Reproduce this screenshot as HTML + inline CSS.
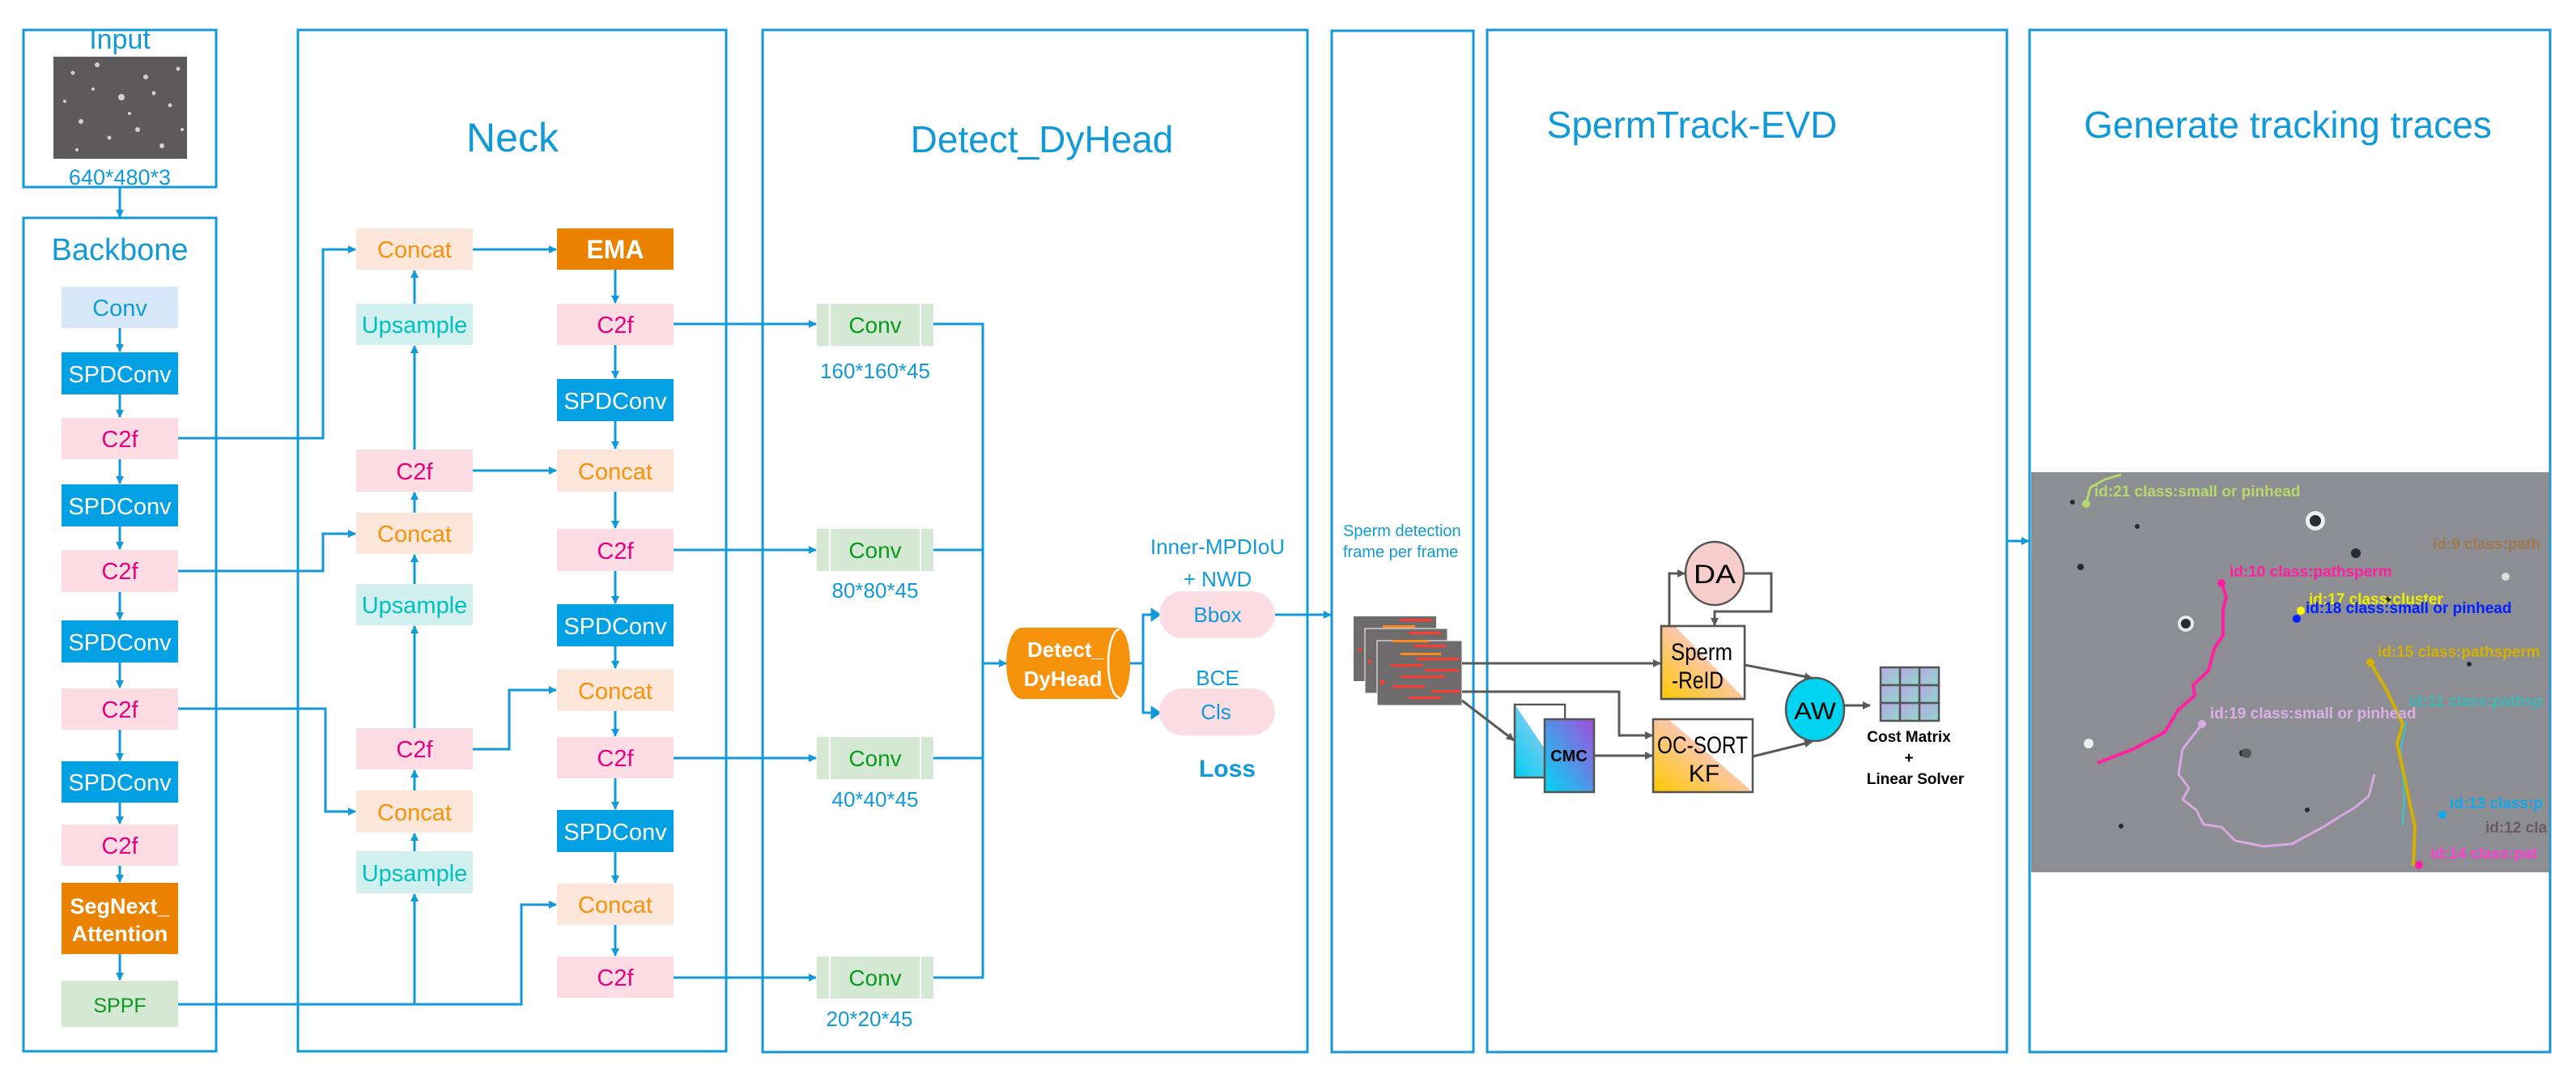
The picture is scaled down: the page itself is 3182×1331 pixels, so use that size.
<!DOCTYPE html>
<html><head><meta charset="utf-8"><style>
html,body{margin:0;padding:0;background:#fff;}
svg{display:block;}
text{font-family:"Liberation Sans",sans-serif;}
</style></head><body>
<svg width="3182" height="1331" viewBox="0 0 3182 1331" xmlns="http://www.w3.org/2000/svg">
<defs>
<marker id="ab" markerWidth="10" markerHeight="10" refX="9" refY="5" orient="auto" markerUnits="userSpaceOnUse" viewBox="0 0 10 10"><path d="M0,0 L10,5 L0,10 Z" fill="#129ad8"/></marker>
<marker id="ag" markerWidth="10" markerHeight="10" refX="9" refY="5" orient="auto" viewBox="0 0 10 10" markerUnits="userSpaceOnUse"><path d="M0,0 L10,5 L0,10 Z" fill="#595959"/></marker>
<linearGradient id="gOr" x1="0" y1="1" x2="1" y2="0"><stop offset="0" stop-color="#ffc800"/><stop offset="0.6" stop-color="#fcc7b8"/><stop offset="1" stop-color="#f9c4d4"/></linearGradient>
<linearGradient id="gCmc" x1="0" y1="1" x2="1" y2="0"><stop offset="0" stop-color="#00d8f2"/><stop offset="1" stop-color="#a44ddc"/></linearGradient>
<linearGradient id="gCmc2" x1="0" y1="1" x2="1" y2="0"><stop offset="0" stop-color="#00cff0"/><stop offset="1" stop-color="#d5c8f2"/></linearGradient>
<linearGradient id="gGrid" x1="0" y1="0" x2="1" y2="1"><stop offset="0" stop-color="#b8a8e8"/><stop offset="1" stop-color="#8fd8c8"/></linearGradient>
</defs>
<g fill="none" stroke="#129ad8" stroke-width="3">
<rect x="29" y="37" width="238" height="194"/>
<rect x="29" y="269" width="238" height="1029"/>
<rect x="368" y="37" width="529" height="1261"/>
<rect x="942" y="37" width="673" height="1262"/>
<rect x="1645" y="38" width="175" height="1261"/>
<rect x="1837" y="37" width="642" height="1262"/>
<rect x="2507" y="37" width="643" height="1262"/>
</g>
<g fill="#129ad8" text-anchor="middle">
<text x="148" y="60" font-size="34">Input</text>
<text x="148" y="228" font-size="27">640*480*3</text>
<text x="148" y="321" font-size="38">Backbone</text>
<text x="633" y="187" font-size="50">Neck</text>
<text x="1287" y="188" font-size="46" font-family="DejaVu Sans, sans-serif">Detect_DyHead</text>
<text x="2090" y="170" font-size="46">SpermTrack-EVD</text>
<text x="2826" y="170" font-size="46">Generate tracking traces</text>
</g>
<rect x="66" y="70" width="165" height="126" fill="#5c5a5a"/>
<g fill="#cfcfd4">
<circle cx="90" cy="90" r="2.5"/><circle cx="120" cy="80" r="3"/><circle cx="150" cy="120" r="4"/><circle cx="180" cy="95" r="3"/><circle cx="210" cy="130" r="2.5"/><circle cx="100" cy="150" r="3"/><circle cx="135" cy="170" r="2.5"/><circle cx="170" cy="160" r="3"/><circle cx="200" cy="180" r="3"/><circle cx="220" cy="85" r="2.5"/><circle cx="80" cy="125" r="2"/><circle cx="160" cy="140" r="2"/><circle cx="190" cy="115" r="2.5"/><circle cx="115" cy="110" r="2"/><circle cx="225" cy="160" r="2"/><circle cx="95" cy="185" r="2"/>
</g>
<line x1="148" y1="231" x2="148" y2="268" stroke="#129ad8" stroke-width="3" marker-end="url(#ab)"/>
<g font-size="29" text-anchor="middle">
<rect x="76" y="354" width="144" height="51" fill="#d6e8f7"/><text x="148" y="390" fill="#129ad8">Conv</text>
<rect x="76" y="435" width="144" height="52" fill="#03a0e3"/><text x="148" y="472" fill="#fff">SPDConv</text>
<rect x="76" y="516" width="144" height="51" fill="#fddde3"/><text x="148" y="552" fill="#e8007e">C2f</text>
<rect x="76" y="598" width="144" height="52" fill="#03a0e3"/><text x="148" y="635" fill="#fff">SPDConv</text>
<rect x="76" y="679" width="144" height="52" fill="#fddde3"/><text x="148" y="715" fill="#e8007e">C2f</text>
<rect x="76" y="766" width="144" height="52" fill="#03a0e3"/><text x="148" y="803" fill="#fff">SPDConv</text>
<rect x="76" y="850" width="144" height="51" fill="#fddde3"/><text x="148" y="886" fill="#e8007e">C2f</text>
<rect x="76" y="940" width="144" height="51" fill="#03a0e3"/><text x="148" y="976" fill="#fff">SPDConv</text>
<rect x="76" y="1018" width="144" height="51" fill="#fddde3"/><text x="148" y="1054" fill="#e8007e">C2f</text>
<rect x="76" y="1090" width="144" height="88" fill="#ea8200"/><text x="148" y="1128" fill="#fff" font-weight="bold" font-size="27">SegNext_</text><text x="148" y="1162" fill="#fff" font-weight="bold" font-size="27">Attention</text>
<rect x="76" y="1211" width="144" height="57" fill="#d5e8d4"/><text x="148" y="1250" fill="#0a9a1e" font-size="25">SPPF</text>
</g>
<g stroke="#129ad8" stroke-width="3" fill="none" marker-end="url(#ab)">
<line x1="148" y1="405" x2="148" y2="434"/><line x1="148" y1="487" x2="148" y2="515"/><line x1="148" y1="567" x2="148" y2="597"/><line x1="148" y1="650" x2="148" y2="678"/><line x1="148" y1="731" x2="148" y2="765"/><line x1="148" y1="818" x2="148" y2="849"/><line x1="148" y1="901" x2="148" y2="939"/><line x1="148" y1="991" x2="148" y2="1017"/><line x1="148" y1="1069" x2="148" y2="1089"/><line x1="148" y1="1178" x2="148" y2="1210"/>
</g>
<g font-size="29" text-anchor="middle">
<rect x="440" y="282" width="144" height="51" fill="#fde6da"/><text x="512" y="318" fill="#f7920d">Concat</text>
<rect x="440" y="375" width="144" height="51" fill="#d2f0ef"/><text x="512" y="411" fill="#00c0c0">Upsample</text>
<rect x="440" y="555" width="144" height="52" fill="#fddde3"/><text x="512" y="592" fill="#e8007e">C2f</text>
<rect x="440" y="633" width="144" height="51" fill="#fde6da"/><text x="512" y="669" fill="#f7920d">Concat</text>
<rect x="440" y="721" width="144" height="51" fill="#d2f0ef"/><text x="512" y="757" fill="#00c0c0">Upsample</text>
<rect x="440" y="899" width="144" height="51" fill="#fddde3"/><text x="512" y="935" fill="#e8007e">C2f</text>
<rect x="440" y="976" width="144" height="52" fill="#fde6da"/><text x="512" y="1013" fill="#f7920d">Concat</text>
<rect x="440" y="1051" width="144" height="52" fill="#d2f0ef"/><text x="512" y="1088" fill="#00c0c0">Upsample</text>
<rect x="688" y="282" width="144" height="51" fill="#ea8200"/><text x="760" y="319" fill="#fff" font-weight="bold" font-size="32">EMA</text>
<rect x="688" y="375" width="144" height="51" fill="#fddde3"/><text x="760" y="411" fill="#e8007e">C2f</text>
<rect x="688" y="468" width="144" height="52" fill="#03a0e3"/><text x="760" y="505" fill="#fff">SPDConv</text>
<rect x="688" y="555" width="144" height="52" fill="#fde6da"/><text x="760" y="592" fill="#f7920d">Concat</text>
<rect x="688" y="653" width="144" height="52" fill="#fddde3"/><text x="760" y="690" fill="#e8007e">C2f</text>
<rect x="688" y="746" width="144" height="52" fill="#03a0e3"/><text x="760" y="783" fill="#fff">SPDConv</text>
<rect x="688" y="826" width="144" height="52" fill="#fde6da"/><text x="760" y="863" fill="#f7920d">Concat</text>
<rect x="688" y="910" width="144" height="51" fill="#fddde3"/><text x="760" y="946" fill="#e8007e">C2f</text>
<rect x="688" y="1000" width="144" height="52" fill="#03a0e3"/><text x="760" y="1037" fill="#fff">SPDConv</text>
<rect x="688" y="1091" width="144" height="51" fill="#fde6da"/><text x="760" y="1127" fill="#f7920d">Concat</text>
<rect x="688" y="1181" width="144" height="51" fill="#fddde3"/><text x="760" y="1217" fill="#e8007e">C2f</text>
</g>
<g stroke="#129ad8" stroke-width="3" fill="none">
<polyline points="220,541 399,541 399,308 439,308" marker-end="url(#ab)"/>
<polyline points="220,705 399,705 399,659 439,659" marker-end="url(#ab)"/>
<polyline points="220,875 402,875 402,1002 439,1002" marker-end="url(#ab)"/>
<polyline points="220,1240 644,1240 644,1117 687,1117" marker-end="url(#ab)"/>
<line x1="512" y1="1240" x2="512" y2="1104" marker-end="url(#ab)"/>
<line x1="512" y1="1051" x2="512" y2="1029" marker-end="url(#ab)"/>
<line x1="512" y1="976" x2="512" y2="951" marker-end="url(#ab)"/>
<line x1="512" y1="899" x2="512" y2="773" marker-end="url(#ab)"/>
<line x1="512" y1="721" x2="512" y2="685" marker-end="url(#ab)"/>
<line x1="512" y1="633" x2="512" y2="608" marker-end="url(#ab)"/>
<line x1="512" y1="555" x2="512" y2="427" marker-end="url(#ab)"/>
<line x1="512" y1="375" x2="512" y2="334" marker-end="url(#ab)"/>
<line x1="584" y1="308" x2="687" y2="308" marker-end="url(#ab)"/>
<line x1="584" y1="581" x2="687" y2="581" marker-end="url(#ab)"/>
<polyline points="584,925 629,925 629,852 687,852" marker-end="url(#ab)"/>
<line x1="760" y1="333" x2="760" y2="374" marker-end="url(#ab)"/>
<line x1="760" y1="426" x2="760" y2="467" marker-end="url(#ab)"/>
<line x1="760" y1="520" x2="760" y2="554" marker-end="url(#ab)"/>
<line x1="760" y1="607" x2="760" y2="652" marker-end="url(#ab)"/>
<line x1="760" y1="705" x2="760" y2="745" marker-end="url(#ab)"/>
<line x1="760" y1="798" x2="760" y2="825" marker-end="url(#ab)"/>
<line x1="760" y1="878" x2="760" y2="909" marker-end="url(#ab)"/>
<line x1="760" y1="961" x2="760" y2="999" marker-end="url(#ab)"/>
<line x1="760" y1="1052" x2="760" y2="1090" marker-end="url(#ab)"/>
<line x1="760" y1="1142" x2="760" y2="1180" marker-end="url(#ab)"/>
<line x1="832" y1="400" x2="1008" y2="400" marker-end="url(#ab)"/>
<line x1="832" y1="679" x2="1008" y2="679" marker-end="url(#ab)"/>
<line x1="832" y1="936" x2="1008" y2="936" marker-end="url(#ab)"/>
<line x1="832" y1="1207" x2="1008" y2="1207" marker-end="url(#ab)"/>
<polyline points="1153,400 1214,400 1214,1207 1153,1207"/>
<line x1="1153" y1="679" x2="1214" y2="679"/>
<line x1="1153" y1="936" x2="1214" y2="936"/>
<line x1="1214" y1="819" x2="1243" y2="819" marker-end="url(#ab)"/>
<line x1="1396" y1="819" x2="1412" y2="819"/>
<polyline points="1431,759 1412,759 1412,880 1431,880"/>
<line x1="1575" y1="759" x2="1644" y2="759" marker-end="url(#ab)"/>
<line x1="2479" y1="668" x2="2506" y2="668" marker-end="url(#ab)"/>
</g>
<g stroke="#129ad8" stroke-width="3"><path d="M1423,753 L1432,759 L1423,765Z" fill="#129ad8"/><path d="M1423,874 L1432,880 L1423,886Z" fill="#129ad8"/></g>
<g font-size="28" text-anchor="middle" font-family="DejaVu Sans, sans-serif">
<g fill="#d5e8d4"><rect x="1009" y="375" width="144" height="52"/><rect x="1009" y="653" width="144" height="52"/><rect x="1009" y="910" width="144" height="52"/><rect x="1009" y="1181" width="144" height="52"/></g>
<g stroke="#fff" stroke-width="2"><line x1="1025" y1="375" x2="1025" y2="427"/><line x1="1137" y1="375" x2="1137" y2="427"/><line x1="1025" y1="653" x2="1025" y2="705"/><line x1="1137" y1="653" x2="1137" y2="705"/><line x1="1025" y1="910" x2="1025" y2="962"/><line x1="1137" y1="910" x2="1137" y2="962"/><line x1="1025" y1="1181" x2="1025" y2="1233"/><line x1="1137" y1="1181" x2="1137" y2="1233"/></g>
<g fill="#0a9a1e"><text x="1081" y="411">Conv</text><text x="1081" y="689">Conv</text><text x="1081" y="946">Conv</text><text x="1081" y="1217">Conv</text></g>
<g fill="#129ad8" font-size="26"><text x="1081" y="467">160*160*45</text><text x="1081" y="738">80*80*45</text><text x="1081" y="996">40*40*45</text><text x="1074" y="1267">20*20*45</text></g>
</g>
<path d="M1262,775 H1380 A16,44 0 0 1 1380,863 H1262 A19,44 0 0 1 1262,775 Z" fill="#f7920d"/>
<path d="M1383,777 A14,42 0 0 0 1383,861" fill="none" stroke="#fff" stroke-width="2.5"/>
<g font-family="DejaVu Sans, sans-serif" font-weight="bold" fill="#fff" font-size="26" text-anchor="middle"><text x="1316" y="811">Detect_</text><text x="1313" y="847">DyHead</text></g>
<rect x="1432" y="730" width="143" height="58" rx="29" fill="#fcdde3"/>
<rect x="1432" y="850" width="143" height="58" rx="29" fill="#fcdde3"/>
<g font-family="DejaVu Sans, sans-serif" fill="#129ad8" font-size="26" text-anchor="middle">
<text x="1504" y="684">Inner-MPDIoU</text><text x="1504" y="724">+  NWD</text>
<text x="1504" y="768">Bbox</text><text x="1504" y="846">BCE</text><text x="1502" y="888">Cls</text>
<text x="1516" y="959" font-weight="bold" font-size="30">Loss</text>
</g>
<g fill="#129ad8" font-size="20" font-family="DejaVu Sans, sans-serif"><text x="1659" y="662">Sperm detection</text><text x="1659" y="688">frame per frame</text></g>
<g>
<rect x="1672" y="761" width="102" height="80" fill="#6e6c6c"/>
<rect x="1686" y="776" width="102" height="80" fill="#6e6c6c" stroke="#fff" stroke-width="1"/>
<rect x="1701" y="791" width="105" height="80" fill="#6e6c6c" stroke="#fff" stroke-width="1"/>
<g fill="#ff3b2f"><rect x="1729" y="764" width="40" height="3"/><rect x="1708" y="772" width="40" height="3" fill="#ff8a20"/><rect x="1740" y="780" width="40" height="3"/><rect x="1720" y="790" width="45" height="3" fill="#ff8a20"/><rect x="1746" y="796" width="40" height="3"/><rect x="1730" y="806" width="50" height="3" fill="#ff8a20"/><rect x="1750" y="812" width="52" height="3"/><rect x="1718" y="820" width="40" height="3"/><rect x="1760" y="826" width="42" height="3"/><rect x="1730" y="834" width="55" height="3"/><rect x="1720" y="846" width="40" height="3"/><rect x="1768" y="852" width="36" height="3"/><rect x="1740" y="860" width="40" height="3"/><rect x="1705" y="840" width="5" height="5"/><rect x="1690" y="815" width="4" height="4"/><rect x="1678" y="800" width="4" height="4"/></g>
</g>
<g stroke="#595959" stroke-width="3" fill="none">
<line x1="1806" y1="819" x2="2051" y2="819" marker-end="url(#ag)"/>
<polyline points="1806,854 2000,854 2000,908 2041,908" marker-end="url(#ag)"/>
<line x1="1806" y1="865" x2="1870" y2="914" marker-end="url(#ag)"/>
<line x1="1969" y1="933" x2="2041" y2="933" marker-end="url(#ag)"/>
<polyline points="2062,773 2062,708 2081,708" marker-end="url(#ag)"/>
<polyline points="2154,708 2188,708 2188,755 2118,755 2118,772" marker-end="url(#ag)"/>
<line x1="2155" y1="821" x2="2238" y2="837" marker-end="url(#ag)"/>
<line x1="2165" y1="934" x2="2238" y2="916" marker-end="url(#ag)"/>
<line x1="2278" y1="871" x2="2310" y2="871" marker-end="url(#ag)"/>
</g>
<ellipse cx="2118" cy="708" rx="36" ry="39" fill="#f8cecc" stroke="#555" stroke-width="2.5"/>
<text x="2118" y="720" font-size="32" text-anchor="middle" fill="#000" textLength="52" lengthAdjust="spacingAndGlyphs">DA</text>
<rect x="2052" y="773" width="103" height="90" fill="url(#gOr)" stroke="#555" stroke-width="2.5"/>
<path d="M2070,774 L2154,774 L2154,862 Z" fill="#fff"/>
<path d="M2052,773 H2155 V863 H2052 Z" fill="none" stroke="#555" stroke-width="2.5"/>
<text x="2102" y="815" font-size="30" text-anchor="middle" fill="#000" textLength="76" lengthAdjust="spacingAndGlyphs">Sperm</text><text x="2097" y="850" font-size="30" text-anchor="middle" fill="#000" textLength="64" lengthAdjust="spacingAndGlyphs">-ReID</text>
<rect x="1871" y="870" width="62" height="90" fill="url(#gCmc2)" stroke="#555" stroke-width="2.5"/>
<path d="M1872,871 L1932,871 L1932,960 Z" fill="#fff"/>
<rect x="1908" y="888" width="61" height="90" fill="url(#gCmc)" stroke="#555" stroke-width="2.5"/>
<text x="1938" y="940" font-size="20" font-weight="bold" text-anchor="middle" fill="#000">CMC</text>
<rect x="2042" y="888" width="123" height="90" fill="url(#gOr)"/>
<path d="M2062,889 L2164,889 L2164,977 Z" fill="#fff"/>
<rect x="2042" y="888" width="123" height="90" fill="none" stroke="#555" stroke-width="2.5"/>
<text x="2103" y="930" font-size="30" text-anchor="middle" fill="#000" textLength="112" lengthAdjust="spacingAndGlyphs">OC-SORT</text><text x="2105" y="965" font-size="30" text-anchor="middle" fill="#000">KF</text>
<ellipse cx="2242" cy="876" rx="36" ry="39" fill="#00d4f0" stroke="#555" stroke-width="2.5"/>
<text x="2242" y="888" font-size="30" text-anchor="middle" fill="#000" textLength="52" lengthAdjust="spacingAndGlyphs">AW</text>
<g stroke="#555" stroke-width="2.5" fill="url(#gGrid)">
<rect x="2323" y="824" width="24" height="22"/><rect x="2347" y="824" width="24" height="22"/><rect x="2371" y="824" width="24" height="22"/>
<rect x="2323" y="846" width="24" height="22"/><rect x="2347" y="846" width="24" height="22"/><rect x="2371" y="846" width="24" height="22"/>
<rect x="2323" y="868" width="24" height="22"/><rect x="2347" y="868" width="24" height="22"/><rect x="2371" y="868" width="24" height="22"/>
</g>
<g font-family="Liberation Mono, monospace" font-weight="bold" font-size="19" text-anchor="middle" fill="#000"><text x="2358" y="916">Cost Matrix</text><text x="2358" y="942">+</text><text x="2366" y="968">Linear Solver</text></g>
<rect x="2509" y="583" width="640" height="494" fill="#8d8e94"/>
<g fill="#2a2a35"><circle cx="2570" cy="700" r="4"/><circle cx="2700" cy="770" r="10" fill="#e8e8e8"/><circle cx="2700" cy="770" r="6"/><circle cx="2860" cy="643" r="12" fill="#eee"/><circle cx="2860" cy="643" r="7"/><circle cx="2910" cy="683" r="6"/><circle cx="2580" cy="918" r="6" fill="#eee"/><circle cx="2770" cy="930" r="4"/><circle cx="2775" cy="930" r="6" fill="#555"/><circle cx="3095" cy="712" r="5" fill="#ddd"/><circle cx="2560" cy="620" r="3"/><circle cx="2640" cy="650" r="3"/><circle cx="2950" cy="740" r="3"/><circle cx="3050" cy="820" r="3"/><circle cx="2850" cy="1000" r="3"/><circle cx="2620" cy="1020" r="3"/></g>
<g fill="none" stroke-width="4" stroke-linejoin="round">
<polyline stroke="#ff1fa0" points="2744,720 2750,737 2746,753 2746,784 2735,801 2728,828 2709,846 2711,859 2691,876 2674,904 2635,925 2591,942"/>
<polyline stroke="#d8a8e0" stroke-width="3" points="2720,894 2696,925 2691,956 2704,973 2696,987 2713,1000 2722,1018 2744,1021 2761,1038 2796,1045 2831,1042 2870,1021 2892,1007 2909,997 2926,983 2933,956"/>
<polyline stroke="#40c0c0" stroke-width="2.5" points="2972,890 2965,930 2970,980 2968,1020"/>
<polyline stroke="#d4b000" points="2928,818 2948,852 2968,894 2961,918 2970,959 2983,1021 2981,1069"/>
<polyline stroke="#b5d96b" stroke-width="3" points="2577,622 2582,602 2600,592 2620,586"/>
</g>
<g fill="#ff1fa0"><circle cx="2744" cy="720" r="5"/><circle cx="2988" cy="1068" r="5"/></g>
<circle cx="2720" cy="894" r="5" fill="#d8a8e0"/><circle cx="2928" cy="818" r="5" fill="#d4b000"/><circle cx="2842" cy="754" r="5" fill="#ffff00"/><circle cx="2837" cy="764" r="5" fill="#0020ff"/><circle cx="2577" cy="622" r="5" fill="#b5d96b"/><circle cx="3017" cy="1006" r="5" fill="#10a8ee"/>
<g font-family="DejaVu Sans, sans-serif" font-size="19" font-weight="bold">
<text x="2587" y="613" fill="#b5d96b">id:21 class:small or pinhead</text>
<text x="2754" y="712" fill="#ff1fa0">id:10 class:pathsperm</text>
<text x="2852" y="746" fill="#eeee00">id:17 class:cluster</text>
<text x="2848" y="757" fill="#0020ff">id:18 class:small or pinhead</text>
<text x="2937" y="811" fill="#d4b000">id:15 class:pathsperm</text>
<text x="2730" y="887" fill="#dcb0e4">id:19 class:small or pinhead</text>
<text x="2976" y="872" fill="#40b8b8">id:11 class:pathsp</text>
<text x="3026" y="998" fill="#10a8ee">id:13 class:p</text>
<text x="3002" y="1060" fill="#ff40d0">id:14 class:pat</text>
<text x="3005" y="678" fill="#a07850">id:9 class:path</text>
<text x="3070" y="1028" fill="#6a5a60">id:12 cla</text>
</g>
</svg>
</body></html>
